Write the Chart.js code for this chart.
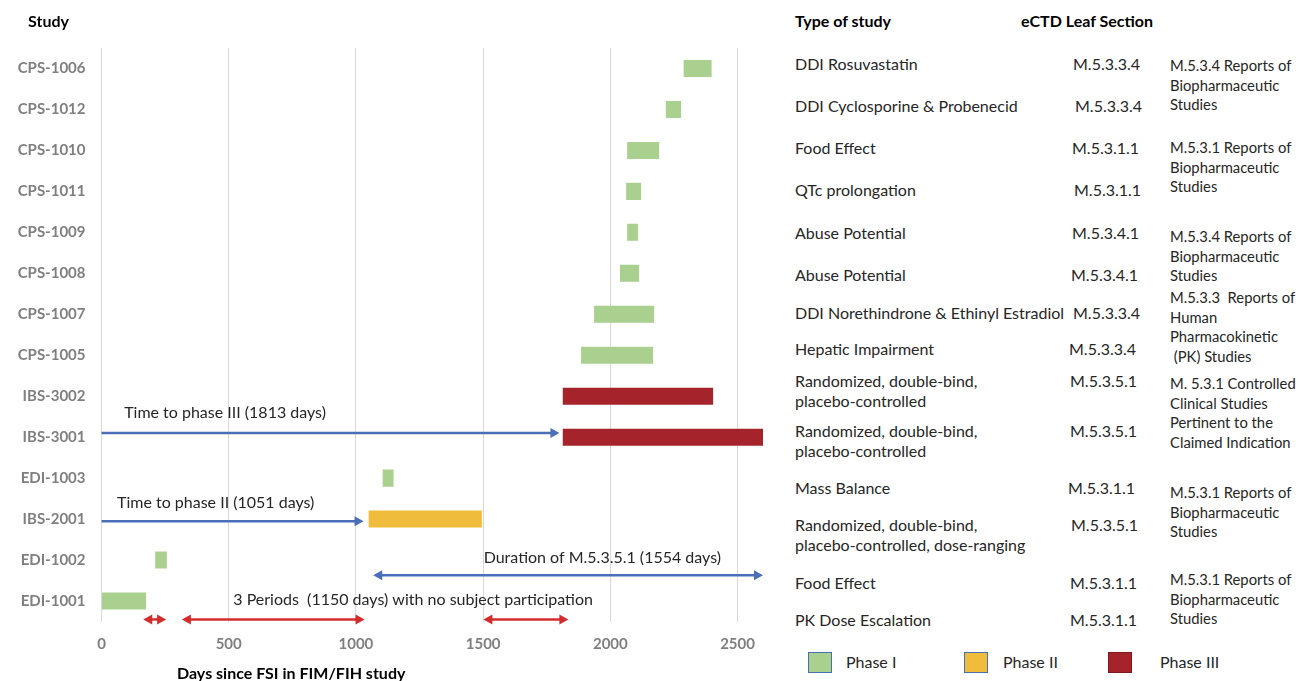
<!DOCTYPE html>
<html>
<head>
<meta charset="utf-8">
<script src="https://cdn.jsdelivr.net/npm/chart.js@4.4.1/dist/chart.umd.min.js"></script>
<style>
  body { margin: 0; background: #fff; font-family: Lato, sans-serif; }
  #wrap { position: relative; width: 1298px; height: 681px; }
  #chartBox { position: absolute; left: 0; top: 0; width: 780px; height: 681px; }
  .t { position: absolute; white-space: pre; line-height: 20px; color: #262626; font-size: 16px; }
  .b { font-weight: bold; color: #000; font-size: 16px; }
  .s { font-size: 14.8px; line-height: 19.5px; }
  .box { position: absolute; width: 22px; height: 19px; border: 1px solid #4a6fb0; }
</style>
</head>
<body>
<div id="wrap">
  <div id="chartBox"><canvas id="ganttChart"></canvas></div>
</div>
<script>
// studies, top to bottom
const studies = ['CPS-1006', 'CPS-1012', 'CPS-1010', 'CPS-1011', 'CPS-1009', 'CPS-1008', 'CPS-1007',
    'CPS-1005', 'IBS-3002', 'IBS-3001', 'EDI-1003', 'IBS-2001', 'EDI-1002', 'EDI-1001'];
// days since FSI (start / end of each study)
const startDays = [2288, 2218, 2066, 2062, 2066, 2038, 1936, 1885, 1813, 1813, 1105, 1050, 211, 0];
const endDays = [2398, 2278, 2192, 2121, 2109, 2113, 2172, 2168, 2404, 2600, 1148, 1495, 257, 175];
const phases = ['I', 'I', 'I', 'I', 'I', 'I', 'I', 'I', 'III', 'III', 'I', 'II', 'I', 'I'];
const phaseNames = ['I', 'II', 'III'];
const phaseLabels = ['Phase I', 'Phase II', 'Phase III'];
const phaseColors = ['#a9d08e', '#f0bc3b', '#a5232b'];
const dayTicks = [0, 500, 1000, 1500, 2000, 2500];

// annotation arrows (day values, row position on study axis)
const arrowFrom = [0, 0, 1068, 164, 316, 1501];
const arrowTo = [1800, 1030, 2600, 254, 1034, 1835];
const arrowRow = [8.9, 11.05, 12.37, 13.45, 13.45, 13.45];
const arrowBoth = [false, false, true, true, true, true];
const arrowColor = ['#4a6fb8', '#4a6fb8', '#4a6fb8', '#d42b2b', '#d42b2b', '#d42b2b'];

const noteText = ['Time to phase III (1813 days)', 'Time to phase II (1051 days)',
    'Duration of M.5.3.5.1 (1554 days)', '3 Periods  (1150 days) with no subject participation'];
const noteDay = [89, 61, 1502, 518];
const noteRow = [8.41, 10.61, 11.95, 12.98];

// right-hand table
const studyTypes = ['DDI Rosuvastatin', 'DDI Cyclosporine & Probenecid', 'Food Effect', 'QTc prolongation',
    'Abuse Potential', 'Abuse Potential', 'DDI Norethindrone & Ethinyl Estradiol', 'Hepatic Impairment',
    'Randomized, double-bind,\nplacebo-controlled', 'Randomized, double-bind,\nplacebo-controlled',
    'Mass Balance', 'Randomized, double-bind,\nplacebo-controlled, dose-ranging', 'Food Effect', 'PK Dose Escalation'];
const leafSections = ['M.5.3.3.4', 'M.5.3.3.4', 'M.5.3.1.1', 'M.5.3.1.1', 'M.5.3.4.1', 'M.5.3.4.1', 'M.5.3.3.4',
    'M.5.3.3.4', 'M.5.3.5.1', 'M.5.3.5.1', 'M.5.3.1.1', 'M.5.3.5.1', 'M.5.3.1.1', 'M.5.3.1.1'];
const typeY = [64, 106, 148, 190, 233, 275, 313, 349, 381, 431, 488, 525, 583, 620];
const leafX = [1073, 1075, 1072, 1074, 1072, 1071, 1073, 1069, 1070, 1070, 1068, 1071, 1070, 1070];
const groupText = ['M.5.3.4 Reports of\nBiopharmaceutic\nStudies', 'M.5.3.1 Reports of\nBiopharmaceutic\nStudies',
    'M.5.3.4 Reports of\nBiopharmaceutic\nStudies', 'M.5.3.3  Reports of\nHuman\nPharmacokinetic\n (PK) Studies',
    'M. 5.3.1 Controlled\nClinical Studies\nPertinent to the\nClaimed Indication',
    'M.5.3.1 Reports of\nBiopharmaceutic\nStudies', 'M.5.3.1 Reports of\nBiopharmaceutic\nStudies'];
const groupY = [66, 148, 237, 298, 384, 493, 580];

function addText(txt, x, y, cls) {
    const d = document.createElement('div');
    d.className = 't ' + cls;
    d.textContent = txt;
    d.style.left = x + 'px';
    d.style.top = y + 'px';
    document.getElementById('wrap').appendChild(d);
    return d;
}

addText('Study', 28, 11, 'b');
addText('Type of study', 795, 11, 'b');
addText('eCTD Leaf Section', 1021, 11, 'b');
addText('Days since FSI in FIM/FIH study', 177, 663, 'b');
studyTypes.forEach((s, i) => {
    addText(s, 795, typeY[i] - 10, '');
    addText(leafSections[i], leafX[i], typeY[i] - 10, '');
});
groupText.forEach((s, i) => addText(s, 1170, groupY[i] - 10, 's'));

// legend
const legendBoxX = [808, 964, 1108];
const legendTextX = [846, 1003, 1160];
phaseLabels.forEach((p, i) => {
    const b = document.createElement('div');
    b.className = 'box';
    b.style.left = legendBoxX[i] + 'px';
    b.style.top = '652px';
    b.style.background = phaseColors[i];
    if (i === 2) b.style.borderColor = '#7a1a20';
    document.getElementById('wrap').appendChild(b);
    addText(p, legendTextX[i], 652, '');
});

function drawArrowHead(ctx, x, y, dir) {
    ctx.beginPath();
    ctx.moveTo(x, y);
    ctx.lineTo(x - dir * 9, y - 5);
    ctx.lineTo(x - dir * 9, y + 5);
    ctx.closePath();
    ctx.fill();
}

const annotationPlugin = {
    id: 'annotations',
    afterDatasetsDraw(chart) {
        const ctx = chart.ctx;
        const xs = chart.scales.x, ys = chart.scales.y;
        ctx.save();
        arrowFrom.forEach((from, i) => {
            const x1 = xs.getPixelForValue(from);
            const x2 = xs.getPixelForValue(arrowTo[i]);
            const y = ys.getPixelForValue(arrowRow[i]);
            ctx.strokeStyle = arrowColor[i];
            ctx.fillStyle = arrowColor[i];
            ctx.lineWidth = 2.5;
            ctx.beginPath();
            ctx.moveTo(arrowBoth[i] ? x1 + 6 : x1, y);
            ctx.lineTo(x2 - 6, y);
            ctx.stroke();
            drawArrowHead(ctx, x2, y, 1);
            if (arrowBoth[i]) drawArrowHead(ctx, x1, y, -1);
        });
        ctx.fillStyle = '#262626';
        ctx.font = '16px Lato';
        ctx.textAlign = 'left';
        ctx.textBaseline = 'middle';
        noteText.forEach((t, i) => {
            ctx.fillText(t, xs.getPixelForValue(noteDay[i]), ys.getPixelForValue(noteRow[i]));
        });
        ctx.restore();
    }
};

const datasets = phaseNames.map((p, k) => ({
    label: phaseLabels[k],
    data: studies.map((s, i) => phases[i] === p ? [startDays[i], endDays[i]] : null),
    backgroundColor: phaseColors[k],
    borderWidth: 0,
    grouped: false,
    barPercentage: 0.415,
    categoryPercentage: 1
}));

const ctx = document.getElementById('ganttChart').getContext('2d');
new Chart(ctx, {
    type: 'bar',
    data: { labels: studies, datasets: datasets },
    options: {
        indexAxis: 'y',
        responsive: true,
        maintainAspectRatio: false,
        animation: false,
        layout: { padding: { top: 48, right: 17, left: 0, bottom: 0 } },
        plugins: {
            legend: { display: false },
            tooltip: { enabled: false }
        },
        scales: {
            x: {
                min: 0,
                max: 2600,
                afterBuildTicks: axis => { axis.ticks = dayTicks.map(v => ({ value: v })); },
                afterFit: axis => { axis.height = 59.5; },
                ticks: {
                    autoSkip: false, maxRotation: 0, padding: 14,
                    callback: v => String(v),
                    color: '#7f7f7f', font: { family: 'Lato', size: 15, weight: 'bold' }
                },
                grid: { color: '#d9d9d9', drawTicks: false },
                border: { display: false }
            },
            y: {
                afterFit: axis => { axis.width = 101.5; },
                ticks: { padding: 16, color: '#7f7f7f', font: { family: 'Lato', size: 15, weight: 'bold' } },
                grid: { display: false, drawTicks: false },
                border: { display: false }
            }
        }
    },
    plugins: [annotationPlugin]
});
</script>
</body>
</html>
